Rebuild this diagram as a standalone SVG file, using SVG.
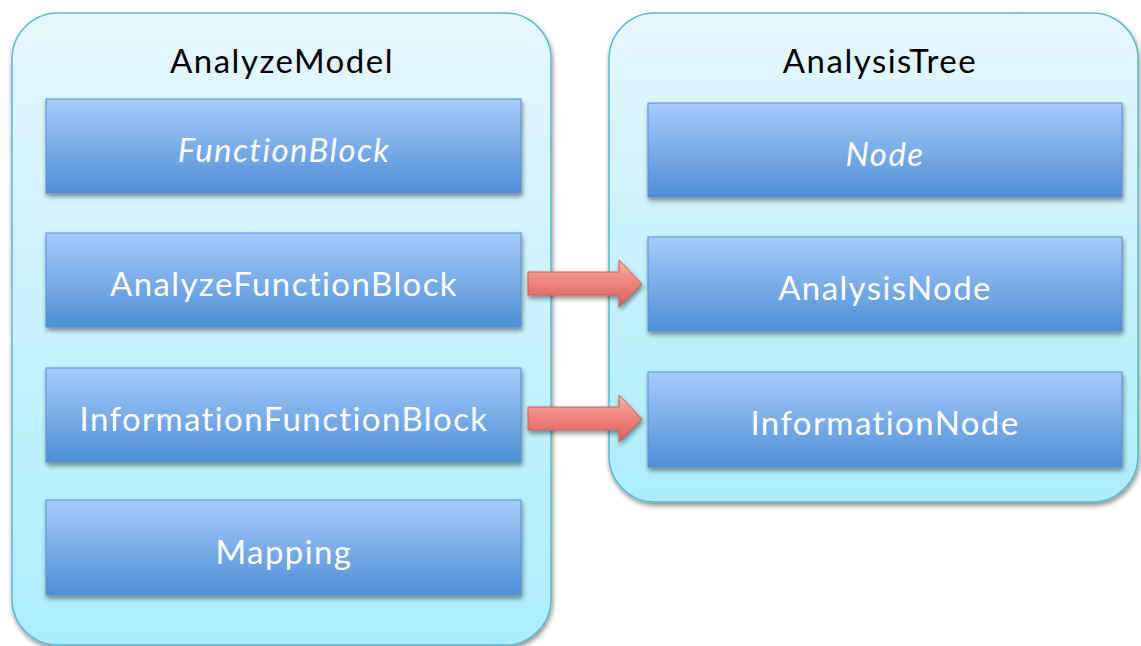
<svg xmlns="http://www.w3.org/2000/svg" width="1141" height="646" viewBox="0 0 1141 646">
  <defs>
    <linearGradient id="panelFill" x1="0" y1="0" x2="0" y2="1">
      <stop offset="0" stop-color="#e5f7fd"/>
      <stop offset="1" stop-color="#abedfc"/>
    </linearGradient>
    <linearGradient id="boxFill" x1="0" y1="0" x2="0" y2="1">
      <stop offset="0" stop-color="#a8cbfb"/>
      <stop offset="1" stop-color="#4e8fd6"/>
    </linearGradient>
    <linearGradient id="arrowFill" x1="0" y1="0" x2="0" y2="1">
      <stop offset="0" stop-color="#f8b4ae"/>
      <stop offset="0.5" stop-color="#ec8179"/>
      <stop offset="1" stop-color="#d9625c"/>
    </linearGradient>
    <filter id="shadow" x="-10%" y="-10%" width="120%" height="130%">
      <feGaussianBlur in="SourceAlpha" stdDeviation="2.5"/>
      <feOffset dx="1" dy="3" result="b"/>
      <feComponentTransfer><feFuncA type="linear" slope="0.45"/></feComponentTransfer>
      <feMerge><feMergeNode/><feMergeNode in="SourceGraphic"/></feMerge>
    </filter>
    <style>
      .panel { fill: url(#panelFill); stroke: #5bb9cd; stroke-width: 1.5; filter: url(#shadow); }
      .box { fill: url(#boxFill); stroke: #5b8fcf; stroke-width: 1; filter: url(#shadow); }
      .title { font-family: Lato, "Open Sans", sans-serif; font-size: 33px; letter-spacing: 1.5px; fill: #000; text-anchor: middle; }
      .label { font-family: Lato, "Open Sans", sans-serif; font-size: 33px; letter-spacing: 1.4px; fill: #fff; text-anchor: middle; }
      .ital { font-style: italic; }
      .arrow { fill: url(#arrowFill); stroke: #c9615b; stroke-width: 1; filter: url(#shadow); }
    </style>
  </defs>
  <rect width="1141" height="646" fill="#fff"/>

  <g id="AnalyzeModel">
    <rect class="panel" x="12" y="13" width="539" height="632" rx="46"/>
    <text class="title" x="282" y="73">AnalyzeModel</text>
  </g>
  <g id="AnalysisTree">
    <rect class="panel" x="609" y="13" width="529" height="489" rx="46"/>
    <text class="title" x="880" y="73">AnalysisTree</text>
  </g>

  <g id="FunctionBlock">
    <rect class="box" x="46" y="99" width="475" height="94"/>
    <text class="label ital" x="284" y="162">FunctionBlock</text>
  </g>
  <g id="AnalyzeFunctionBlock">
    <rect class="box" x="46" y="233" width="475" height="94"/>
    <text class="label" x="284" y="296">AnalyzeFunctionBlock</text>
  </g>
  <g id="InformationFunctionBlock">
    <rect class="box" x="46" y="368" width="475" height="94"/>
    <text class="label" x="284" y="431">InformationFunctionBlock</text>
  </g>
  <g id="Mapping">
    <rect class="box" x="46" y="500" width="475" height="95"/>
    <text class="label" x="284" y="564">Mapping</text>
  </g>

  <g id="Node">
    <rect class="box" x="648" y="103" width="474" height="94"/>
    <text class="label ital" x="885" y="166">Node</text>
  </g>
  <g id="AnalysisNode">
    <rect class="box" x="648" y="237" width="474" height="94"/>
    <text class="label" x="885" y="300">AnalysisNode</text>
  </g>
  <g id="InformationNode">
    <rect class="box" x="648" y="372" width="474" height="95"/>
    <text class="label" x="885" y="435">InformationNode</text>
  </g>

  <g id="connectors">
    <path class="arrow" d="M528,272 H619 V260 L642,284 L619,307 V295 H528 Z"/>
    <path class="arrow" d="M528,407 H619 V395 L642,419 L619,442 V430 H528 Z"/>
  </g>
</svg>
